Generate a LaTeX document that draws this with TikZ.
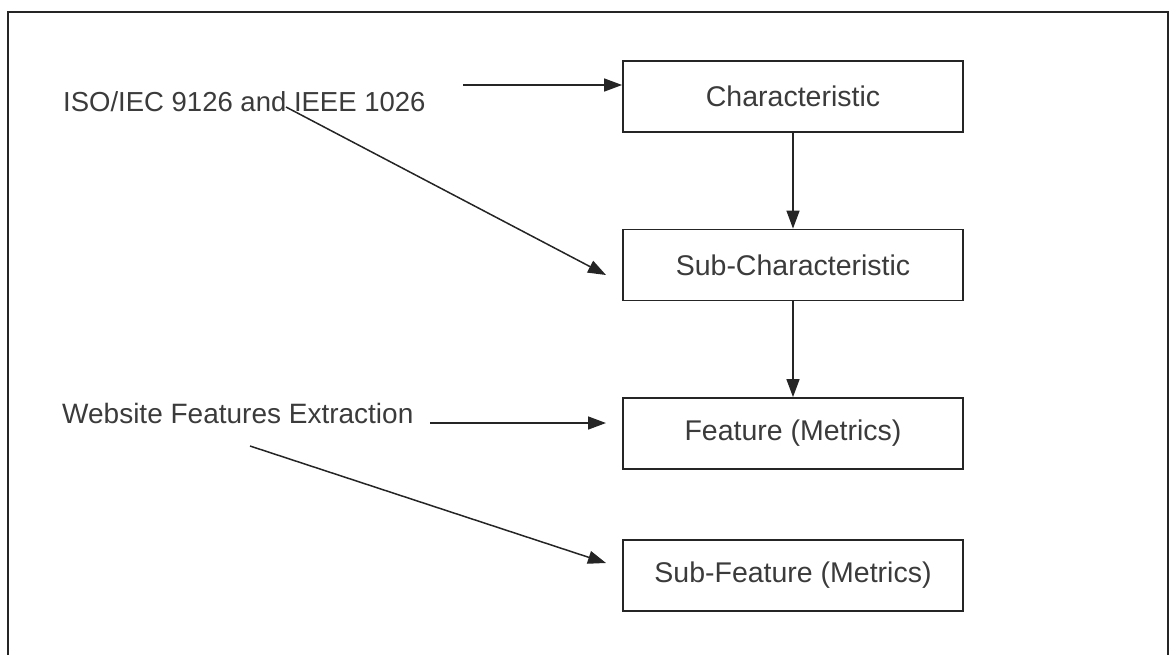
\documentclass[tikz,border=0pt]{standalone}
\usepackage{fontspec}
\setmainfont{Liberation Sans}
\usetikzlibrary{arrows.meta,calc}
\definecolor{ink}{HTML}{252525}
\begin{document}
\begin{tikzpicture}[x=1pt,y=-1pt,
  box/.style={draw=ink,line width=1.8pt,minimum width=340pt,minimum height=71pt,inner sep=0pt,
    font=\fontsize{28.5}{32}\selectfont,text=ink!90},
  lbl/.style={anchor=west,inner sep=0pt,text=ink!90},
  arr/.style={draw=ink,line width=1.5pt,-{Triangle[length=18pt,width=13pt]}}]
\useasboundingbox (0,0) rectangle (1175,654);
\begin{scope}
\clip (0,0) rectangle (1175,654);
\draw[ink,line width=2pt] (8,12) rectangle (1168,700);
\end{scope}
\node[box] (char) at (793,96.5) {Characteristic};
\node[box] (subc) at (793,265) {Sub-Characteristic};
\node[box] (feat) at (793,433.5) {Feature (Metrics)};
\node[box] (subf) at (793,575.5) {Sub-Feature (Metrics)};
\node[lbl,font=\fontsize{27.5}{32}\selectfont] (iso) at (63,102) {ISO/IEC 9126 and IEEE 1026};
\node[lbl,font=\fontsize{28}{32}\selectfont] (web) at (62,413) {Website Features Extraction};
\coordinate (isoA) at (463,85);
\coordinate (isoD) at (286,107);
\coordinate (subcT) at (606,275);
\coordinate (webA) at (430,423);
\coordinate (featT) at (606,423);
\coordinate (webD) at (250,446);
\coordinate (subfT) at (606,563);
\draw[arr] (isoA) -- (isoA -| char.west);
\draw[arr] (isoD) -- (subcT);
\draw[arr] (char.south) -- (subc.north);
\draw[arr] (subc.south) -- (feat.north);
\draw[arr] (webA) -- (featT);
\draw[arr] (webD) -- (subfT);
\end{tikzpicture}
\end{document}
